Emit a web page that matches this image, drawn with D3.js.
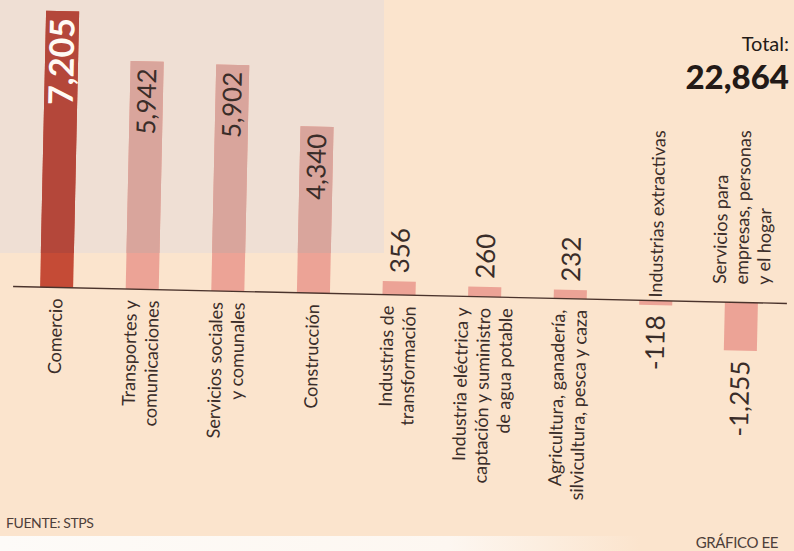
<!DOCTYPE html>
<html>
<head>
<meta charset="utf-8">
<script src="https://cdn.jsdelivr.net/npm/d3@7"></script>
<style>
  html, body { margin: 0; padding: 0; background: #fbe4cd; }
  svg { display: block; }
  text { font-family: Lato, "Noto Sans", sans-serif; }
</style>
</head>
<body>
<svg id="chart" width="794" height="551"></svg>
<script>
// data (empleos por sector)
const categories = ["Comercio", "Transportes", "Servicios sociales", "Construccion",
  "Transformacion", "Electrica", "Agricultura", "Extractivas", "Servicios empresas"];
const labelLines = [
  ["Comercio"],
  ["Transportes y", "comunicaciones"],
  ["Servicios sociales", "y comunales"],
  ["Construcción"],
  ["Industrias de", "transformación"],
  ["Industria eléctrica y", "captación y suministro", "de agua potable"],
  ["Agricultura, ganadería,", "silvicultura, pesca y caza"],
  ["Industrias extractivas"],
  ["Servicios para", "empresas, personas", "y el hogar"]
];
const values = [7205, 5942, 5902, 4340, 356, 260, 232, -118, -1255];
const sourceText = "FUENTE: STPS";
const creditText = "GRÁFICO EE";

const width = 794, height = 551;
const svg = d3.select("#chart");
const ink = "#3a2d29";
const fmt = v => (v < 0 ? "-" : "") + d3.format(",")(Math.abs(v));

// the scan is tilted a little, the chart is turned to follow it
const rot = "rotate(1.25,400,295)";

const defs = svg.append("defs");
defs.append("clipPath").attr("id", "panelClip")
  .append("rect").attr("x", 0).attr("y", 0).attr("width", 384).attr("height", 253);
const paper = defs.append("linearGradient").attr("id", "paper");
paper.append("stop").attr("offset", "0%").attr("stop-color", "#fdfbf8");
paper.append("stop").attr("offset", "70%").attr("stop-color", "#fdf7f1");
paper.append("stop").attr("offset", "100%").attr("stop-color", "#fbe4cd");

svg.append("rect").attr("width", width).attr("height", height).attr("fill", "#fbe4cd");
svg.append("rect").attr("x", 0).attr("y", 536).attr("width", 640).attr("height", 15).attr("fill", "url(#paper)");
svg.append("rect").attr("x", 0).attr("y", 0).attr("width", 384).attr("height", 253).attr("fill", "#efdfd4");

const x = d3.scaleBand().domain(categories).range([40, 758]).paddingInner(0.614).paddingOuter(0);
const y = d3.scaleLinear().domain([-1500, 7500]).range([352.56, 7.18]);
const cxOf = i => x(categories[i]) + x.bandwidth() / 2;

function drawBars(g, fill) {
  g.selectAll("rect").data(values).join("rect")
    .attr("x", (d, i) => x(categories[i]))
    .attr("y", d => y(Math.max(0, d)))
    .attr("width", x.bandwidth())
    .attr("height", d => Math.abs(y(d) - y(0)))
    .attr("fill", fill);
}

const base = svg.append("g").attr("transform", rot);
drawBars(base, (d, i) => i === 0 ? "#c54b36" : "#eca396");

// upper part of the bars sits under the grey panel
const shaded = svg.append("g").attr("clip-path", "url(#panelClip)").append("g").attr("transform", rot);
drawBars(shaded, (d, i) => i === 0 ? "#b4473a" : "#d9a59c");

const g = svg.append("g").attr("transform", rot);

g.append("line")
  .attr("x1", 13).attr("x2", 787)
  .attr("y1", y(0)).attr("y2", y(0))
  .attr("stroke", "#4a332c").attr("stroke-width", 1.4);

// value labels
values.forEach((v, i) => {
  const big = v >= 1000;
  const fs = i === 0 ? 34 : 26;
  let ty, anchor;
  if (big) { ty = y(v) + 7; anchor = "end"; }
  else if (v >= 0) { ty = y(v) - 8; anchor = "start"; }
  else { ty = y(v) + 10; anchor = "end"; }
  g.append("text")
    .attr("transform", `translate(${cxOf(i) + fs * 0.36},${ty}) rotate(-90)`)
    .attr("text-anchor", anchor)
    .attr("font-size", fs)
    .attr("font-weight", i === 0 ? 700 : 400)
    .attr("fill", i === 0 ? "#fffaf4" : ink)
    .text(fmt(v));
});

// category labels
labelLines.forEach((lines, i) => {
  const v = values[i], n = lines.length;
  const ty = v >= 0 ? y(0) + 11 : y(0) - (n > 1 ? 18 : 3);
  const t = g.append("text")
    .attr("transform", `translate(${cxOf(i)},${ty}) rotate(-90)`)
    .attr("text-anchor", v >= 0 ? "end" : "start")
    .attr("font-size", 18)
    .attr("fill", ink);
  lines.forEach((s, j) => {
    t.append("tspan").attr("x", 0).attr("y", 6 + (j - (n - 1) / 2) * 22).text(s);
  });
});

// total
svg.append("text").attr("x", 789).attr("y", 51).attr("text-anchor", "end")
  .attr("font-size", 20).attr("fill", "#231a17").text("Total:");
svg.append("text").attr("x", 789).attr("y", 89).attr("text-anchor", "end")
  .attr("font-size", 33).attr("font-weight", 900).attr("fill", "#231a17")
  .text(d3.format(",")(d3.sum(values)));

// footer
svg.append("text").attr("x", 6).attr("y", 528).attr("font-size", 14)
  .attr("letter-spacing", -0.4).attr("fill", "#4e3f3a").text(sourceText);
svg.append("text").attr("x", 778).attr("y", 548).attr("text-anchor", "end").attr("font-size", 15)
  .attr("letter-spacing", -0.4).attr("fill", "#4e3f3a").text(creditText);
</script>
</body>
</html>
